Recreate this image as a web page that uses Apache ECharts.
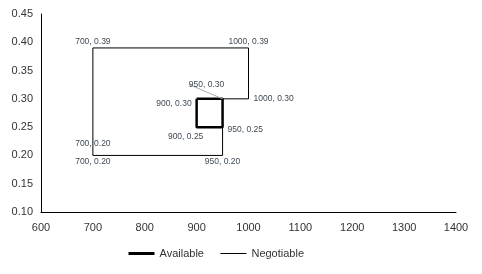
<!DOCTYPE html>
<html>
<head>
    <meta charset="utf-8">
    <title>ECharts</title>
</head>
<body style="margin:0;">
<div id="main" style="width:482px;height:274px;"></div>
</body>
<script src="https://cdn.jsdelivr.net/npm/echarts@6/dist/echarts.min.js" type="text/javascript"></script>
<script type="text/javascript">

// Available (thick square) and Negotiable (thin outline) paths
var availX=[900,950,950,900,900];
var availY=[0.30,0.30,0.25,0.25,0.30];
var negX=[700,700,1000,1000,950,950,700];
var negY=[0.20,0.39,0.39,0.30,0.30,0.20,0.20];

// label placement per point (null = hidden)
var availLbl=[
    {position:'left',offset:[0,5]},
    null,
    {position:'right',offset:[0,3]},
    {position:'bottom',offset:[-11,0]},
    null
];
var negLbl=[
    {position:'top',distance:7,offset:[-3,0]},
    {position:'top',distance:2},
    {position:'top',distance:2},
    {position:'right',offset:[0,-2]},
    {position:'top',distance:2,leader:true},
    {position:'bottom',distance:2},
    {position:'bottom',distance:2,offset:[-3,0]}
];

function build(xs,ys,lbl){
    var out=[];
    for(var i=0;i<xs.length;i++){
        var l=lbl[i];
        var item={value:[xs[i],ys[i]]};
        if(l){
            item.label={show:true,position:l.position};
            if(l.distance!=null) item.label.distance=l.distance;
            if(l.offset) item.label.offset=l.offset;
            if(l.leader) item.labelLine={show:true,lineStyle:{color:'#aaa',width:1}};
        }else{
            item.label={show:false};
        }
        out.push(item);
    }
    return out;
}

var myChart=echarts.init(document.getElementById('main'));

var lblStyle={
    fontFamily:'Liberation Sans',
    fontSize:8.5,
    color:'#404a55',
    formatter:function(p){ return p.value[0]+', '+p.value[1].toFixed(2); }
};

var option={
    animation:false,
    grid:{left:41,right:26,top:14,bottom:62},
    xAxis:{
        type:'value',min:600,max:1400,interval:100,
        axisLine:{lineStyle:{color:'#000',width:1}},
        axisTick:{show:false},
        splitLine:{show:false},
        axisLabel:{fontFamily:'Liberation Sans',fontSize:11,color:'#333',margin:10,
            formatter:function(v){return String(v);}}
    },
    yAxis:{
        type:'value',min:0.10,max:0.45,interval:0.05,
        axisLine:{show:true,lineStyle:{color:'#000',width:1}},
        axisTick:{show:false},
        splitLine:{show:false},
        axisLabel:{fontFamily:'Liberation Sans',fontSize:11,color:'#333',margin:8,
            formatter:function(v){return v.toFixed(2);}}
    },
    legend:{
        bottom:10,
        left:122,
        itemWidth:26,
        itemHeight:8,
        itemGap:16,
        itemStyle:{opacity:0},
        textStyle:{fontFamily:'Liberation Sans',fontSize:11,color:'#333'},
        data:[
            {name:'Available',lineStyle:{width:3}},
            {name:'Negotiable',lineStyle:{width:1}}
        ]
    },
    series:[{
        name:'Available',
        type:'line',
        symbol:'circle',
        symbolSize:0,
        lineStyle:{color:'#000',width:2.5},
        itemStyle:{color:'#000'},
        label:lblStyle,
        data:build(availX,availY,availLbl),
        z:3
    },{
        name:'Negotiable',
        type:'line',
        symbol:'circle',
        symbolSize:0,
        lineStyle:{color:'#000',width:1},
        itemStyle:{color:'#000'},
        label:lblStyle,
        labelLayout:function(p){
            if(p.dataIndex===4) return {dx:-16,dy:-8};
            return {};
        },
        data:build(negX,negY,negLbl)
    }]
};

myChart.setOption(option);
</script>
</html>
